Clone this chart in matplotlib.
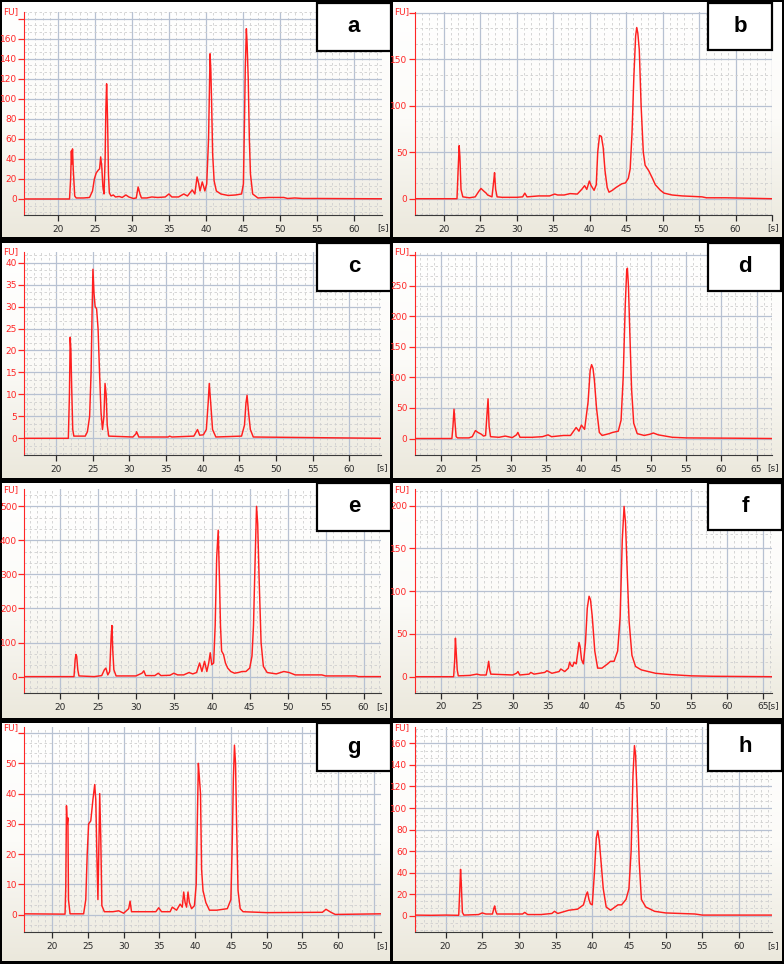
import matplotlib
matplotlib.use("Agg")
import matplotlib.pyplot as plt
import numpy as np
from matplotlib.colors import LinearSegmentedColormap
from matplotlib.patches import Rectangle
from matplotlib.ticker import MultipleLocator

# Electropherogram traces as (time [s], FU) points
trace_a = [(15.5, 0), (21.6, 0), (21.75, 20), (21.85, 48), (21.92, 35), (22.0, 50), (22.1, 30), (22.3, 3),
           (22.5, 1), (23.5, 1), (24.3, 1.5), (24.7, 8), (24.95, 20), (25.2, 26), (25.5, 29), (25.65, 30),
           (25.8, 42), (25.95, 32), (26.1, 12), (26.25, 5), (26.4, 40), (26.5, 90), (26.6, 115), (26.68, 95),
           (26.75, 70), (26.85, 25), (26.97, 6), (27.2, 3), (27.5, 4), (27.8, 2), (28.3, 2.5), (28.7, 1.5),
           (29.2, 4), (29.6, 2), (30.2, 0.5), (30.6, 1), (30.85, 12), (31.1, 5), (31.3, 1), (32.0, 1),
           (32.7, 2), (33.5, 1.5), (34.5, 2), (35.0, 5), (35.4, 2), (36.3, 2), (37.0, 5), (37.5, 3),
           (38.15, 9), (38.5, 5), (38.8, 22), (39.0, 16), (39.2, 8), (39.5, 17), (39.7, 12), (39.85, 8),
           (40.1, 15), (40.35, 60), (40.55, 145), (40.65, 130), (40.75, 100), (40.9, 45), (41.1, 18),
           (41.4, 8), (42, 5), (43, 3.5), (44, 4), (44.8, 5), (45.05, 15), (45.2, 80), (45.3, 130),
           (45.45, 170), (45.55, 155), (45.7, 120), (45.85, 60), (46.0, 25), (46.3, 5), (47, 1),
           (48.5, 1.5), (50.5, 1.5), (51, 0.5), (52, 1), (53, 0.5), (55, 0.5), (60, 0.3), (63.7, 0.2)]
trace_b = [(16, 0), (21.8, 0), (21.95, 30), (22.1, 57), (22.2, 45), (22.35, 10), (22.6, 2), (23.5, 1),
           (24.3, 2), (24.8, 8), (25.1, 11), (25.5, 8), (25.8, 6), (26.0, 4), (26.3, 3), (26.6, 2),
           (26.85, 20), (26.95, 28), (27.1, 10), (27.3, 2), (28, 1.5), (30, 1.5), (30.8, 2), (31.1, 6),
           (31.4, 2), (33, 3), (34.5, 3), (35.2, 5), (35.6, 4), (36.5, 4), (37.3, 5.5), (38.3, 5),
           (38.9, 10), (39.3, 14), (39.6, 10), (39.95, 19), (40.2, 14), (40.6, 9), (40.9, 15), (41.1, 50),
           (41.35, 68), (41.6, 67), (41.85, 55), (42.1, 30), (42.4, 12), (42.65, 7), (43.1, 9), (43.6, 12),
           (44.4, 16), (44.9, 17), (45.3, 22), (45.55, 32), (45.8, 70), (46.05, 130), (46.3, 175),
           (46.45, 184), (46.6, 178), (46.8, 160), (47.05, 100), (47.35, 50), (47.6, 36), (48.1, 30),
           (48.6, 22), (49.0, 15), (49.7, 9), (50.2, 6), (51.3, 4), (52.7, 3), (55.4, 2), (56, 1),
           (58.6, 1), (62, 0.5), (65, 0)]
trace_c = [(15.7, 0), (21.7, 0), (21.85, 10), (21.95, 23), (22.05, 20), (22.15, 12), (22.3, 2), (22.45, 0.5),
           (24.0, 0.5), (24.3, 1.5), (24.6, 5), (24.8, 15), (24.95, 30), (25.05, 38.5), (25.2, 33),
           (25.35, 30), (25.55, 29.5), (25.75, 25), (25.95, 15), (26.15, 6), (26.35, 2), (26.55, 5),
           (26.7, 12.5), (26.85, 10), (27.0, 3), (27.2, 0.5), (30.5, 0.3), (30.9, 1), (31.0, 1.5),
           (31.3, 0.3), (35.3, 0.3), (35.5, 0.5), (35.8, 0.3), (38.8, 0.5), (39.3, 2), (39.6, 0.7),
           (40.1, 0.8), (40.5, 2), (40.75, 8), (40.9, 12.5), (41.1, 8), (41.35, 2), (41.8, 0.3), (45.3, 0.5),
           (45.7, 3), (45.9, 8), (46.05, 9.8), (46.25, 6), (46.5, 2), (46.9, 0.3), (64.3, 0)]
trace_d = [(16.3, 0), (21.6, 0), (21.75, 20), (21.9, 48), (22.05, 25), (22.2, 3), (22.4, 1), (24.0, 1),
           (24.5, 3), (24.95, 13), (25.3, 10), (25.8, 7), (26.1, 4), (26.4, 5), (26.6, 40), (26.75, 65),
           (26.9, 20), (27.1, 3), (28.3, 2), (29.2, 4), (30.2, 1.5), (30.8, 6), (31.0, 10), (31.3, 2),
           (33, 2), (34.5, 3), (35.3, 6), (35.8, 3), (37.5, 5), (38.5, 5), (39.3, 18), (39.7, 12),
           (40.05, 22), (40.5, 15), (41.0, 60), (41.3, 112), (41.5, 121), (41.7, 115), (41.9, 95),
           (42.2, 50), (42.6, 10), (43.0, 5), (44.0, 8), (44.5, 10), (45.3, 12), (45.7, 30), (46.0, 100),
           (46.3, 220), (46.5, 275), (46.6, 279), (46.75, 250), (46.9, 190), (47.2, 80), (47.5, 25),
           (48.0, 8), (49.0, 5), (49.8, 7), (50.3, 9), (51.0, 6), (53, 2), (55, 1), (62, 0.5), (67.2, 0)]
trace_e = [(15.3, 0), (21.85, 0), (22.0, 50), (22.1, 65), (22.2, 60), (22.35, 20), (22.5, 2), (24.5, 0),
           (25.5, 3), (25.85, 20), (26.05, 25), (26.3, 5), (26.55, 15), (26.75, 120), (26.85, 150),
           (26.95, 80), (27.1, 20), (27.4, 2), (30, 2), (30.8, 10), (31.05, 17), (31.3, 3), (32.5, 3),
           (32.95, 10), (33.3, 3), (34.5, 4), (35.0, 10), (35.5, 5), (36.3, 5), (37.0, 12), (37.5, 8),
           (38.0, 12), (38.4, 40), (38.7, 15), (39.05, 45), (39.35, 15), (39.6, 40), (39.8, 70), (40.0, 35),
           (40.25, 40), (40.45, 150), (40.65, 350), (40.85, 430), (41.0, 300), (41.15, 150), (41.3, 75),
           (41.55, 65), (41.8, 40), (42.1, 25), (42.5, 15), (43.0, 10), (43.5, 12), (44.0, 15), (44.5, 15),
           (45.0, 25), (45.3, 60), (45.5, 150), (45.7, 330), (45.9, 500), (46.05, 450), (46.25, 280),
           (46.5, 100), (46.8, 30), (47.3, 12), (48.5, 8), (49.5, 15), (50.2, 12), (51.0, 5), (54.5, 5),
           (55.0, 2), (59.0, 2), (59.3, 0), (62.3, 0)]
trace_f = [(16.3, 0), (21.75, 0), (21.9, 20), (22.0, 45), (22.1, 30), (22.25, 8), (22.4, 1), (24, 1.5),
           (25.0, 3), (25.5, 2), (26.3, 2), (26.5, 10), (26.65, 18), (26.8, 8), (26.95, 3), (30, 2),
           (30.55, 4), (30.75, 6), (31.0, 2), (32.3, 3), (32.55, 5), (33, 3), (34.5, 5), (34.8, 7),
           (35.5, 4), (36.5, 6), (36.75, 9), (37.3, 6), (37.8, 10), (37.98, 17), (38.2, 13), (38.4, 12),
           (38.6, 17), (38.9, 15), (39.15, 30), (39.3, 40), (39.45, 35), (39.65, 20), (39.9, 15),
           (40.2, 40), (40.45, 80), (40.7, 94), (40.9, 90), (41.15, 70), (41.5, 30), (41.9, 10), (42.5, 10),
           (43.3, 15), (43.7, 18), (44.2, 18), (44.7, 30), (45.05, 70), (45.35, 160), (45.6, 199),
           (45.8, 180), (46.05, 120), (46.3, 65), (46.7, 25), (47.2, 12), (48, 8), (49, 6), (50, 4),
           (52, 2.5), (55, 1), (58, 0.5), (66.3, 0)]
trace_g = [(16.1, 0.3), (21.8, 0.2), (21.9, 9), (22.0, 36), (22.1, 30), (22.2, 32), (22.28, 5), (22.5, 0.3),
           (24.4, 0.3), (24.7, 5), (24.9, 20), (25.1, 30), (25.4, 31), (25.7, 38), (25.95, 43), (26.1, 38),
           (26.25, 20), (26.4, 5), (26.55, 25), (26.65, 40), (26.8, 25), (26.95, 3), (27.3, 1), (28.5, 1),
           (29.3, 1.3), (30.0, 0.5), (30.7, 2), (30.9, 4.5), (31.1, 1), (34.5, 1), (34.9, 2.3), (35.3, 1),
           (36.5, 1), (36.8, 2.5), (37.4, 1.5), (37.9, 3.5), (38.2, 2.5), (38.4, 7.5), (38.6, 4), (38.8, 2.5),
           (39.0, 7.5), (39.2, 4), (39.5, 2), (39.9, 3), (40.15, 10), (40.3, 30), (40.45, 50), (40.6, 45),
           (40.75, 40), (40.9, 15), (41.1, 8), (41.5, 4), (42, 1.5), (43, 1.5), (44.5, 2), (45.0, 5),
           (45.2, 25), (45.35, 45), (45.5, 56), (45.65, 50), (45.8, 30), (46.0, 8), (46.3, 2), (46.7, 1),
           (50, 0.7), (57.8, 0.8), (58.3, 1.8), (59, 0.8), (59.6, 0.1), (66, 0.3)]
trace_h = [(15.8, 0.5), (18, 0.3), (20, 0.5), (21.8, 0.3), (21.95, 25), (22.05, 43), (22.15, 30), (22.3, 3),
           (22.5, 0.5), (24.5, 1), (25.0, 2.5), (25.5, 1.5), (26.4, 1.5), (26.6, 7), (26.7, 9), (26.85, 4),
           (27.0, 1.5), (30.5, 1.5), (30.8, 3), (31.2, 1), (33, 1), (34.5, 2), (34.85, 4), (35.3, 2),
           (36.8, 5), (38.0, 6), (38.8, 10), (39.2, 20), (39.35, 22), (39.55, 15), (39.75, 11), (40.0, 10),
           (40.3, 40), (40.55, 72), (40.75, 79), (40.95, 70), (41.2, 50), (41.5, 25), (41.9, 8), (42.5, 5),
           (43.5, 10), (44.0, 10), (44.6, 15), (45.0, 25), (45.3, 60), (45.55, 130), (45.75, 158),
           (45.9, 150), (46.1, 115), (46.4, 50), (46.7, 15), (47.3, 8), (48.5, 4), (50, 2.5), (52, 2),
           (54, 1.5), (55, 0.5), (64.5, 0.5)]

letters = ["a", "b", "c", "d", "e", "f", "g", "h"]
traces = [trace_a, trace_b, trace_c, trace_d, trace_e, trace_f, trace_g, trace_h]
x_limits = [(15.5, 63.7), (16.0, 65.0), (15.7, 64.3), (16.3, 67.2),
            (15.3, 62.3), (16.3, 66.3), (16.1, 66.0), (15.8, 64.5)]
y_limits = [(-16, 187), (-17.5, 201), (-3.8, 42.5), (-27, 306),
            (-49, 550), (-18.7, 219), (-5.8, 61.9), (-15.5, 175)]
y_steps = [20, 50, 5, 50, 100, 50, 10, 20]
y_top_label = [160, 150, 40, 250, 500, 200, 50, 160]
x_last_label = [60, 60, 60, 65, 60, 65, 60, 60]

# layout in pixels of the 784x964 picture
W, H = 784, 964
col_x = [(2, 390), (393, 782)]
row_y = [(2, 237), (243, 478), (483, 718), (723, 961)]
axes_px = [(24.3, 11.7, 381.7, 215), (414.7, 11.7, 772, 215),
           (24.3, 251.7, 381, 455), (414.7, 251.7, 772, 455),
           (24.3, 489.3, 381, 693.3), (414.7, 489.3, 772, 692.7),
           (24.3, 727.3, 381, 932.3), (414.7, 727.3, 772, 932.3)]
box_px = [(317, 3, 391, 51), (708, 3, 772, 50),
          (317, 243, 391, 291), (708, 243, 781, 291),
          (317, 483, 391, 531), (708, 483, 782, 530),
          (317, 723, 391, 771), (708, 723, 782, 771)]

RED = "#ff2626"
TRACE = "#ff1f1f"


def frac(l, t, r, b):
    return [l / W, 1 - b / H, (r - l) / W, (b - t) / H]


fig = plt.figure(figsize=(W / 100, H / 100), dpi=100, facecolor="black")

bg = fig.add_axes([0, 0, 1, 1], zorder=0)
bg.set_axis_off()
fg = fig.add_axes([0, 0, 1, 1], zorder=10)
fg.set_axis_off()
fg.patch.set_alpha(0)

xp = LinearSegmentedColormap.from_list("xp", ["#ffffff", "#fcfbf8", "#ebe8dc"])
grad = np.linspace(0, 1, 256).reshape(-1, 1)
for r, (t, b) in enumerate(row_y):
    for c, (l, rr) in enumerate(col_x):
        bg.imshow(grad, cmap=xp, aspect="auto", extent=(l, rr, b, t), interpolation="bilinear")
for a in (bg, fg):
    a.set_xlim(0, W)
    a.set_ylim(H, 0)

for i, pts in enumerate(traces):
    t, fu = np.array(pts).T
    l, top, r, bot = axes_px[i]
    ax = fig.add_axes(frac(l, top, r, bot), zorder=5)
    ax.patch.set_alpha(0)
    ax.set_axisbelow(True)
    ax.plot(t, fu, color=TRACE, lw=1.05, zorder=3)
    ax.set_xlim(*x_limits[i])
    ax.set_ylim(*y_limits[i])

    xt = np.arange(20, x_limits[i][1] + 0.01, 5)
    ax.set_xticks(xt)
    ax.set_xticklabels([f"{v:.0f}" if v <= x_last_label[i] else "" for v in xt])
    ax.xaxis.set_minor_locator(MultipleLocator(1))
    yt = np.arange(0, y_limits[i][1] + 0.01, y_steps[i])
    ax.set_yticks(yt)
    ax.set_yticklabels([f"{v:.0f}" if v <= y_top_label[i] else "" for v in yt])
    ax.yaxis.set_minor_locator(MultipleLocator(y_steps[i] / 3))

    ax.grid(which="major", color="#b7c1d2", lw=0.9, ls="-")
    ax.grid(which="minor", color="#cfcfcf", lw=0.6, ls=(0, (3, 3)))
    ax.tick_params(which="minor", length=0)
    ax.tick_params(axis="y", colors=RED, length=4, width=0.9, labelsize=6.5, pad=1.2)
    ax.tick_params(axis="x", colors="#2a2a2a", length=4, width=0.9, labelsize=6.5, pad=3)
    for s in ("top", "right"):
        ax.spines[s].set_visible(False)
    ax.spines["left"].set_color(RED)
    ax.spines["bottom"].set_color("#3a3a3a")

    px = col_x[i % 2][0]
    fg.text(px + 1, top, "FU]", color=RED, fontsize=6.5, ha="left", va="center")
    fg.text(r + 1, bot + 13, "[s]", color="#2a2a2a", fontsize=6.5, ha="center", va="center")

    bl, bt, br, bb = box_px[i]
    fg.add_patch(Rectangle((bl, bt), br - bl, bb - bt, facecolor="white", edgecolor="black", lw=1.6))
    fg.text((bl + br) / 2, (bt + bb) / 2, letters[i], fontsize=16, fontweight="bold",
            family="Liberation Sans", ha="center", va="center", color="black")

fig.savefig("out.png", dpi=100, facecolor="black")
